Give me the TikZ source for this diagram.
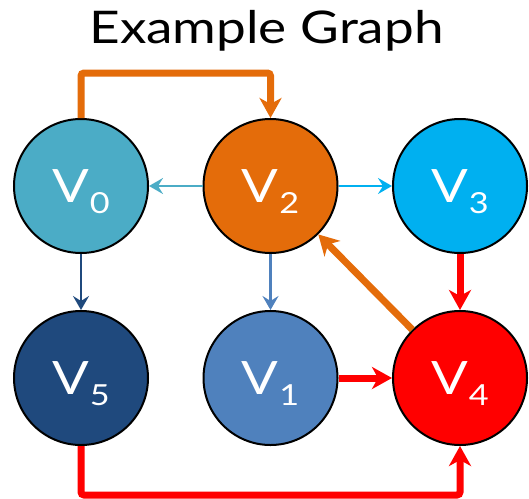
\documentclass[tikz,border=0pt]{standalone}
\usepackage{fontspec}
\setmainfont{Lato}[FakeStretch=1.18]
\usepackage{xcolor}
\usetikzlibrary{arrows.meta, positioning, calc}
\definecolor{vzero}{HTML}{4BACC6}
\definecolor{vone}{HTML}{4F81BD}
\definecolor{vtwo}{HTML}{E46C0A}
\definecolor{vthree}{HTML}{00B0F0}
\definecolor{vfour}{HTML}{FF0000}
\definecolor{vfive}{HTML}{1F497D}
\newcommand{\vname}[1]{V\kern1pt\raisebox{-11pt}[0pt][0pt]{\fontsize{29}{29}\selectfont #1}}

\begin{document}
\begin{tikzpicture}[x=1pt, y=1pt, on grid,
    vert/.style={circle, draw=black, line width=2pt, minimum size=134pt, inner sep=0pt,
        text=white, font=\fontsize{46}{46}\selectfont},
    lightedge/.style={line width=2.5pt, -{Stealth[length=14pt, width=16pt, inset=5pt]}},
    heavyedge/.style={line width=7pt, rounded corners=3pt, -{Stealth[length=20pt, width=22pt, inset=6pt]}}]
    \useasboundingbox (0,0) rectangle (529,-498);
    \node[anchor=base, font=\fontsize{45}{45}\selectfont] (title) at (266.5,-43) {Example Graph};

    \node[vert, fill=vzero] (v0) at (81,-186) {\vname{0}};
    \node[vert, fill=vtwo, right=189.5pt of v0] (v2) {\vname{2}};
    \node[vert, fill=vthree, right=189.5pt of v2] (v3) {\vname{3}};
    \node[vert, fill=vfive, below=192pt of v0] (v5) {\vname{5}};
    \node[vert, fill=vone, below=192pt of v2] (v1) {\vname{1}};
    \node[vert, fill=vfour, below=192pt of v3] (v4) {\vname{4}};

    \draw[heavyedge, vtwo] (v0.north) -- ++(0,45) -| (v2.north);
    \draw[lightedge, vzero] (v2) -- (v0);
    \draw[lightedge, vthree] (v2) -- (v3);
    \draw[lightedge, vfive] (v0) -- (v5);
    \draw[lightedge, vone] (v2) -- (v1);
    \draw[heavyedge, vfour] (v3) -- (v4);
    \draw[heavyedge, vfour] (v1) -- (v4);
    \draw[heavyedge, vtwo] (v4) -- (v2);
    \draw[heavyedge, vfour] (v5.south) -- ++(0,-49) -| (v4.south);
\end{tikzpicture}
\end{document}
